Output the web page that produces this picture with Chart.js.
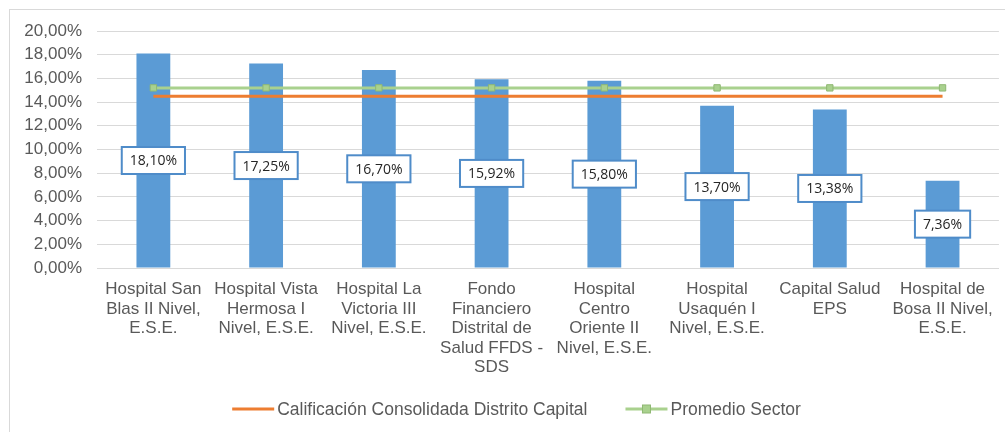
<!DOCTYPE html>
<html>
<head>
<meta charset="utf-8">
<script src="https://cdn.jsdelivr.net/npm/chart.js@4.4.0/dist/chart.umd.min.js"></script>
<style>
  html,body{margin:0;padding:0;background:#fff;}
  #wrap{position:relative;width:1005px;height:432px;overflow:hidden;}
  #frame{position:absolute;left:9px;top:9px;width:1100px;height:500px;border-top:1px solid #d9d9d9;border-left:1px solid #d9d9d9;pointer-events:none;}
  canvas{position:absolute;left:0;top:0;}
</style>
</head>
<body>
<div id="wrap">
  <canvas id="c" width="1005" height="432"></canvas>
  <div id="frame"></div>
</div>
<script>
// categorías y valores
const categories = [
  ['Hospital San', 'Blas II Nivel,', 'E.S.E.'],
  ['Hospital Vista', 'Hermosa I', 'Nivel, E.S.E.'],
  ['Hospital La', 'Victoria III', 'Nivel, E.S.E.'],
  ['Fondo', 'Financiero', 'Distrital de', 'Salud FFDS -', 'SDS'],
  ['Hospital', 'Centro', 'Oriente II', 'Nivel, E.S.E.'],
  ['Hospital', 'Usaquén I', 'Nivel, E.S.E.'],
  ['Capital Salud', 'EPS'],
  ['Hospital de', 'Bosa II Nivel,', 'E.S.E.']
];
const barValues = [18.10, 17.25, 16.70, 15.92, 15.80, 13.70, 13.38, 7.36];
const consolidada = [14.5, 14.5, 14.5, 14.5, 14.5, 14.5, 14.5, 14.5];
const promedio = [15.2, 15.2, 15.2, 15.2, 15.2, 15.2, 15.2, 15.2];
const yTicks = [0, 2, 4, 6, 8, 10, 12, 14, 16, 18, 20];

const fmtPct = v => v.toFixed(2).replace('.', ',') + '%';

// etiquetas dentro de las barras
const barLabels = {
  id: 'barLabels',
  afterDatasetsDraw(chart) {
    const ctx = chart.ctx;
    const meta = chart.getDatasetMeta(0);
    ctx.save();
    ctx.font = '14px "Open Sans", sans-serif';
    ctx.textAlign = 'center'; ctx.textBaseline = 'middle';
    meta.data.forEach((bar, i) => {
      const txt = fmtPct(barValues[i]);
      const cy = (bar.y + bar.base) / 2;
      const w = ctx.measureText(txt).width + 16, h = 27;
      ctx.fillStyle = '#fff';
      ctx.fillRect(bar.x - w / 2, cy - h / 2, w, h);
      ctx.strokeStyle = '#4f8cc9'; ctx.lineWidth = 2;
      ctx.strokeRect(bar.x - w / 2, cy - h / 2, w, h);
      ctx.fillStyle = '#262626';
      ctx.fillText(txt, bar.x, cy + 1);
    });
    ctx.restore();
  }
};

// leyenda con línea + marcador
const lineLegend = {
  id: 'lineLegend',
  afterDraw(chart) {
    const ctx = chart.ctx;
    const items = chart.data.datasets.filter(d => d.type === 'line');
    ctx.save();
    ctx.font = '17.5px "Liberation Sans", Arial, sans-serif';
    const sw = 42, gap = 3, sp = 38;
    const widths = items.map(d => sw + gap + ctx.measureText(d.label).width);
    const total = widths.reduce((a, b) => a + b, 0) + sp * (items.length - 1);
    let x = chart.width / 2 + 14 - total / 2;
    const y = 409;
    items.forEach((d, i) => {
      ctx.strokeStyle = d.borderColor; ctx.lineWidth = 3;
      ctx.beginPath(); ctx.moveTo(x, y); ctx.lineTo(x + sw, y); ctx.stroke();
      if (d.pointRadius > 0) {
        ctx.fillStyle = d.pointBackgroundColor; ctx.strokeStyle = d.pointBorderColor; ctx.lineWidth = 1;
        ctx.fillRect(x + sw / 2 - 4, y - 4, 8, 8); ctx.strokeRect(x + sw / 2 - 4, y - 4, 8, 8);
      }
      ctx.fillStyle = '#595959'; ctx.textAlign = 'left'; ctx.textBaseline = 'middle';
      ctx.fillText(d.label, x + sw + gap, y + 1);
      x += widths[i] + sp;
    });
    ctx.restore();
  }
};

new Chart(document.getElementById('c'), {
  data: {
    labels: categories,
    datasets: [
      { type: 'bar', label: 'Calificación', data: barValues, backgroundColor: '#5b9bd5',
        categoryPercentage: 0.6, barPercentage: 0.5, order: 3 },
      { type: 'line', label: 'Calificación Consolidada Distrito Capital', data: consolidada,
        borderColor: '#ed7d31', borderWidth: 3, pointRadius: 0, fill: false, order: 2 },
      { type: 'line', label: 'Promedio Sector', data: promedio,
        borderColor: '#a9d18e', borderWidth: 3, pointStyle: 'rect', pointRadius: 4.5,
        pointBackgroundColor: '#a9d18e', pointBorderColor: '#8fb873', pointBorderWidth: 1, fill: false, order: 1 }
    ]
  },
  options: {
    responsive: false, animation: false,
    layout: { padding: { left: 10, top: 31, right: 6, bottom: 0 } },
    plugins: { legend: { display: false }, tooltip: { enabled: false } },
    scales: {
      x: {
        grid: { display: false, drawTicks: false },
        border: { color: '#d9d9d9' },
        ticks: { color: '#595959', font: { family: '"Liberation Sans", Arial, sans-serif', size: 17, lineHeight: 1.14 },
          maxRotation: 0, autoSkip: false, padding: 12 },
        afterFit(s) { s.height = 164; }
      },
      y: {
        min: 0, max: 20,
        afterBuildTicks(s) { s.ticks = yTicks.map(v => ({ value: v })); },
        grid: { color: '#d9d9d9', drawTicks: false },
        border: { display: false },
        ticks: { color: '#595959', font: { family: '"Liberation Sans", Arial, sans-serif', size: 17 },
          padding: 15, callback: v => fmtPct(v) },
        afterFit(s) { s.width = 87; }
      }
    }
  },
  plugins: [barLabels, lineLegend]
});
</script>
</body>
</html>
